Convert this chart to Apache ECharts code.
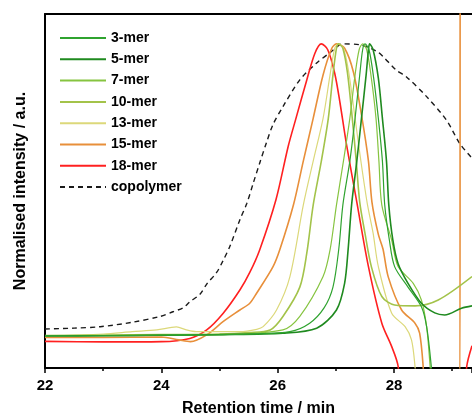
<!DOCTYPE html>
<html><head><meta charset="utf-8">
<script src="https://cdn.jsdelivr.net/npm/echarts@6/dist/echarts.min.js"></script>
<style>html,body{margin:0;padding:0;background:#fff}#c{width:472px;height:417px}</style>
</head><body><div id="c"></div>
<script>
const seriesNames = ['3-mer','5-mer','7-mer','10-mer','13-mer','15-mer','18-mer','copolymer'];
const xTicks = [22, 24, 26, 28];

const mer3 = [[22,0.004],[23,0.004],[24,0.006],[25,0.008],[25.6,0.01],[26.21,0.018],[26.55,0.047],[26.8,0.1],[26.95,0.17],[27.05,0.3],[27.12,0.45],[27.24,0.6],[27.33,0.746],[27.41,0.894],[27.46,0.98],[27.5,1.0],[27.57,0.98],[27.65,0.883],[27.73,0.746],[27.8,0.6],[27.84,0.45],[27.92,0.33],[28.01,0.24],[28.24,0.17],[28.47,0.103],[28.56,0.035],[28.64,-0.1],[28.7,-0.25]];
const mer5 = [[22,0.003],[23,0.004],[24,0.006],[25,0.008],[26.09,0.013],[26.67,0.03],[27.01,0.092],[27.15,0.183],[27.21,0.297],[27.27,0.45],[27.36,0.6],[27.44,0.746],[27.52,0.894],[27.56,0.98],[27.58,1.0],[27.64,0.98],[27.73,0.883],[27.8,0.746],[27.87,0.6],[27.91,0.45],[27.98,0.33],[28.07,0.25],[28.24,0.183],[28.47,0.115],[28.7,0.082],[28.87,0.075],[29.16,0.098],[29.34,0.106]];
const mer7 = [[22,0.004],[24,0.006],[25,0.008],[26.09,0.024],[26.38,0.07],[26.78,0.206],[26.9,0.297],[27.01,0.45],[27.13,0.6],[27.24,0.746],[27.33,0.894],[27.4,0.98],[27.46,1.0],[27.53,0.98],[27.61,0.883],[27.69,0.746],[27.74,0.6],[27.79,0.45],[27.96,0.33],[28.07,0.24],[28.33,0.183],[28.47,0.126],[28.56,0.035],[28.62,-0.1],[28.68,-0.25]];
const mer10 = [[22,0.005],[23,0.006],[24,0.008],[25,0.01],[25.5,0.015],[25.87,0.024],[26.09,0.07],[26.38,0.17],[26.5,0.286],[26.61,0.45],[26.75,0.6],[26.87,0.746],[26.95,0.894],[27.01,0.985],[27.05,1.0],[27.12,0.985],[27.2,0.9],[27.28,0.75],[27.35,0.6],[27.41,0.46],[27.5,0.354],[27.61,0.24],[27.79,0.138],[28.01,0.109],[28.36,0.106],[28.76,0.126],[29.34,0.206]];
const mer13 = [[22,0.003],[23,0.01],[23.5,0.018],[23.92,0.024],[24.26,0.034],[24.43,0.024],[24.6,0.018],[25.35,0.018],[25.64,0.026],[25.75,0.035],[25.98,0.092],[26.21,0.206],[26.44,0.45],[26.61,0.6],[26.78,0.746],[26.9,0.894],[26.98,0.985],[27.04,1.0],[27.13,0.985],[27.22,0.905],[27.33,0.746],[27.43,0.6],[27.54,0.455],[27.64,0.354],[27.73,0.24],[27.96,0.081],[28.19,0.035],[28.3,-0.01],[28.36,-0.1],[28.42,-0.25]];
const mer15 = [[22,-0.002],[23,-0.002],[24,0.0],[24.3,-0.01],[24.5,-0.016],[24.78,0.007],[25.06,0.052],[25.35,0.092],[25.52,0.115],[25.64,0.15],[25.92,0.24],[26.04,0.3],[26.27,0.45],[26.44,0.6],[26.61,0.746],[26.78,0.894],[26.93,0.985],[27.01,1.0],[27.15,0.985],[27.3,0.905],[27.44,0.758],[27.56,0.6],[27.62,0.46],[27.73,0.35],[27.81,0.3],[27.9,0.205],[28.13,0.092],[28.36,0.047],[28.44,0.013],[28.5,-0.1],[28.56,-0.3],[29.12,-0.3],[29.15,1.5],[29.34,1.5]];
const mer18 = [[22,-0.015],[23,-0.017],[24,-0.016],[24.49,-0.005],[24.78,0.024],[25.06,0.08],[25.35,0.16],[25.52,0.22],[25.69,0.297],[25.97,0.468],[26.18,0.65],[26.32,0.75],[26.5,0.877],[26.64,0.968],[26.75,1.0],[26.86,0.98],[26.98,0.9],[27.07,0.8],[27.18,0.66],[27.36,0.46],[27.56,0.24],[27.79,0.047],[27.96,-0.033],[28.07,-0.1],[28.15,-0.3],[29.17,-0.3],[29.25,-0.1],[29.34,-0.03]];
const copolymer = [[22,0.027],[22.5,0.03],[22.95,0.035],[23.5,0.05],[23.98,0.07],[24.2,0.086],[24.38,0.1],[24.49,0.12],[24.66,0.145],[24.78,0.18],[24.95,0.22],[25.06,0.26],[25.18,0.31],[25.35,0.4],[25.47,0.456],[25.58,0.525],[25.69,0.593],[25.81,0.665],[25.92,0.725],[26.09,0.786],[26.38,0.877],[26.67,0.935],[26.9,0.97],[27.12,1.0],[27.41,0.997],[27.7,0.975],[27.81,0.957],[28.04,0.91],[28.21,0.888],[28.56,0.82],[28.9,0.74],[29.13,0.66],[29.34,0.61]];

const colors = ['#2fa32f','#1f8a1f','#86c440','#a3c34a','#dcd87a','#e88f3a','#ff2020','#1a1a1a'];
const widths = [1.2,1.6,1.2,1.6,1.2,1.6,1.6,1.4];
const datas = [mer3,mer5,mer7,mer10,mer13,mer15,mer18,copolymer];

const FONT = 'Liberation Sans, Arial, sans-serif';
const chart = echarts.init(document.getElementById('c'), null, {renderer:'canvas'});
chart.setOption({
  animation:false,
  grid:{left:45,right:0,top:14,bottom:49,outerBoundsMode:'none',containLabel:false},
  legend:{
    orient:'vertical', left:54, top:26, itemWidth:46, itemHeight:14, itemGap:7.3,
    data:seriesNames,
    itemStyle:{opacity:0},
    textStyle:{fontFamily:FONT,fontWeight:'bold',fontSize:14,color:'#000'}
  },
  xAxis:[{
    type:'value', min:22, max:29.34, interval:2,
    name:'Retention time / min', nameLocation:'middle', nameGap:33,
    nameTextStyle:{fontFamily:FONT,fontWeight:'bold',fontSize:16,color:'#000'},
    axisLine:{show:true,onZero:false,lineStyle:{color:'#000',width:2}},
    axisTick:{show:true,inside:false,length:5,lineStyle:{color:'#000',width:1.5}},
    minorTick:{show:true,splitNumber:2,length:3,lineStyle:{color:'#000',width:1.5}},
    axisLabel:{fontFamily:FONT,fontWeight:'bold',fontSize:15,color:'#000',margin:10,
      formatter:function(v){return xTicks.indexOf(v)>=0?String(v):'';}},
    splitLine:{show:false}
  },{
    type:'value', position:'top', min:22, max:29.34,
    axisLine:{show:true,onZero:false,lineStyle:{color:'#000',width:2}},
    axisTick:{show:false}, axisLabel:{show:false}, splitLine:{show:false}
  }],
  yAxis:{
    type:'value', min:-0.106, max:1.102,
    name:'Normalised intensity / a.u.', nameLocation:'middle', nameGap:16,
    nameTextStyle:{fontFamily:FONT,fontWeight:'bold',fontSize:16,color:'#000'},
    axisLine:{show:true,onZero:false,lineStyle:{color:'#000',width:2}},
    axisTick:{show:false}, axisLabel:{show:false}, splitLine:{show:false}
  },
  series: seriesNames.map(function(n,i){
    return {
      name:n, type:'line', data:datas[i], symbol:'none', smooth:0.3, clip:true,
      xAxisIndex:0,
      lineStyle:{color:colors[i],width:widths[i],type: n==='copolymer'?[5,4]:'solid'},
      itemStyle:{color:colors[i]},
      z: 10-i
    };
  })
});
</script></body></html>
